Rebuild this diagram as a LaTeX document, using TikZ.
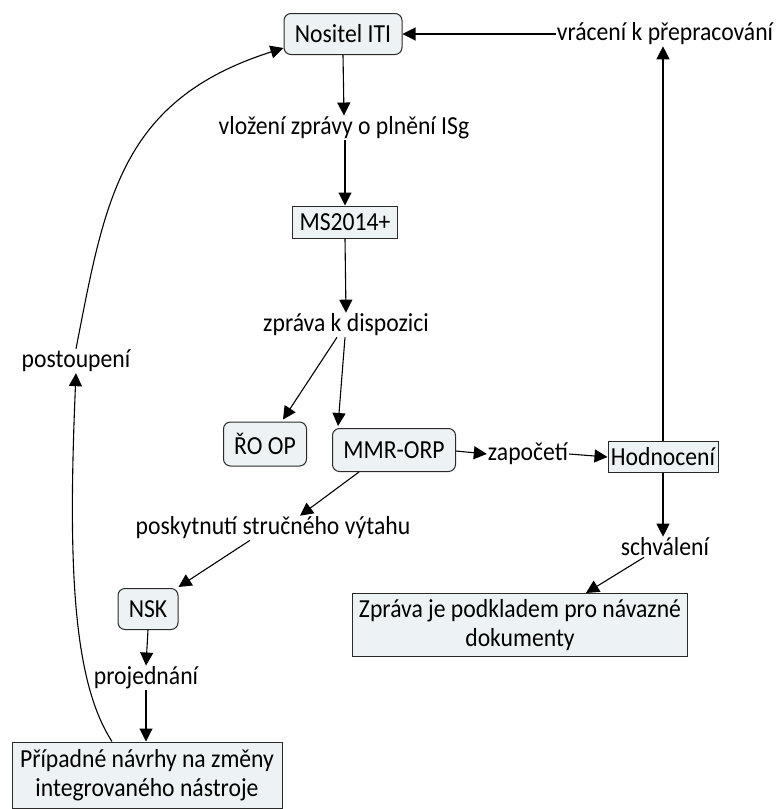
\documentclass[tikz,border=0pt]{standalone}
\usepackage{fontspec}
\setmainfont{Carlito}[FakeStretch=0.91]
\usetikzlibrary{arrows.meta,calc}
\definecolor{boxfill}{HTML}{EDF3F4}
\definecolor{boxline}{HTML}{2A2A2A}
\tikzset{
  concept/.style={draw=boxline, line width=1pt, fill=boxfill, inner sep=0pt, align=center, font=\fontsize{26}{29}\selectfont},
  rconcept/.style={concept, rounded corners=7pt},
  phrase/.style={inner sep=1pt, align=center, font=\fontsize{26}{29}\selectfont},
  link/.style={line width=1.1pt, -{Triangle[length=13pt,width=13pt]}},
  plain/.style={line width=1.1pt}
}
\begin{document}
\begin{tikzpicture}[x=1pt,y=-1pt]
\useasboundingbox (0,0) rectangle (777,809);
% concepts
\node[rconcept, minimum width=118pt, minimum height=41pt] (niti) at (343,34) {Nositel ITI};
\node[concept, minimum width=105pt, minimum height=32pt] (ms) at (345,222) {MS2014+};
\node[rconcept, minimum width=83pt, minimum height=44pt] (roop) at (265,444) {ŘO OP};
\node[rconcept, minimum width=123pt, minimum height=43pt] (mmr) at (394,450) {MMR-ORP};
\node[concept, minimum width=110pt, minimum height=31pt] (hod) at (663,457) {Hodnocení};
\node[concept, minimum width=335pt, minimum height=63pt] (zpr) at (520,625) {Zpráva je podkladem pro návazné\\dokumenty};
\node[rconcept, minimum width=60pt, minimum height=41pt] (nsk) at (148,609) {NSK};
\node[concept, minimum width=270pt, minimum height=66pt] (pri) at (147,775) {Případné návrhy na změny\\integrovaného nástroje};
% linking phrases
\node[phrase] (vrac) at (665,34) {vrácení k přepracování};
\node[phrase] (vloz) at (344,128) {vložení zprávy o plnění ISg};
\node[phrase] (zk) at (346,325) {zpráva k dispozici};
\node[phrase] (zap) at (528,454) {započetí};
\node[phrase] (sch) at (665,547) {schválení};
\node[phrase] (posk) at (273,528) {poskytnutí stručného výtahu};
\node[phrase] (proj) at (146,678) {projednání};
\node[phrase] (post) at (76,361) {postoupení};
% connectors
\draw[link] (vrac.west) -- (niti.east);
\draw[link] (niti.south) -- (vloz.north);
\draw[link] (vloz.south -| ms.north) -- (ms.north);
\draw[link] (ms.south) -- (zk.north);
\draw[link] ($(zk.south)+(-9,0)$) -- ($(roop.north)+(18,-2)$);
\draw[link] ($(zk.south)+(-1,0)$) -- ($(mmr.north west)+(6,-2)$);
\draw[link] ($(mmr.east)+(0,1)$) -- (zap.west);
\draw[link] (zap.east) -- (hod.west);
\draw[link] (hod.north) -- (vrac.south -| hod.north);
\draw[link] (hod.south) -- (sch.north -| hod.south);
\draw[link] ($(sch.south)+(-21,0)$) -- ($(zpr.north)+(66,0)$);
\draw[link] ($(mmr.south west)+(27,0)$) -- ($(posk.north)+(27,0)$);
\draw[link] ($(posk.south)+(-23,0)$) -- ($(nsk.north east)+(0,-1)$);
\draw[link] (nsk.south) -- (proj.north);
\draw[link] (proj.south) -- (proj.south |- pri.north);
\draw[link] ($(pri.north)+(-35,0)$) .. controls (72,680) and (68,560) .. (post.south);
\draw[link] (post.north) .. controls (105,200) and (120,100) .. ($(niti.west)+(0,14)$);
\end{tikzpicture}
\end{document}
